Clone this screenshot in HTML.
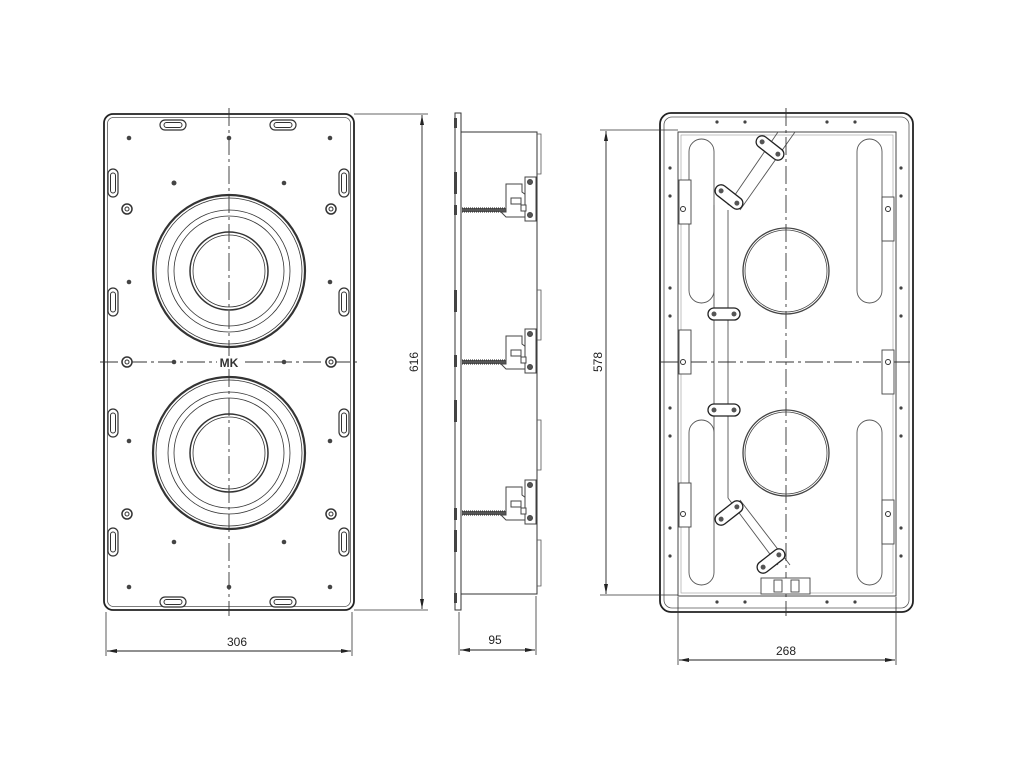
<!DOCTYPE html>
<html><head><meta charset="utf-8"><style>
html,body{margin:0;padding:0;background:#fff}
svg{display:block}
text{font-family:"Liberation Sans",sans-serif;font-size:12px;fill:#222}
</style></head><body>
<svg width="1024" height="768" viewBox="0 0 1024 768" xmlns="http://www.w3.org/2000/svg">
<defs>
<marker id="ar" viewBox="0 0 10 4" refX="10" refY="2" markerWidth="10" markerHeight="4" orient="auto-start-reverse" markerUnits="userSpaceOnUse"><path d="M0,0L10,2L0,4z" fill="#222"/></marker>
<g id="hslot"><rect x="-13" y="-5" width="26" height="10" rx="5" fill="#fff" stroke="#333" stroke-width="1.2"/><rect x="-9" y="-2.5" width="18" height="5" rx="2.5" fill="none" stroke="#333" stroke-width="1"/></g>
<g id="vslot"><rect x="-5" y="-14" width="10" height="28" rx="5" fill="#fff" stroke="#333" stroke-width="1.2"/><rect x="-2.5" y="-10" width="5" height="20" rx="2.5" fill="none" stroke="#333" stroke-width="1"/></g>
<g id="screw"><circle r="5" fill="#fff" stroke="#333" stroke-width="1.5"/><circle r="2" fill="none" stroke="#333"/></g>
<g id="woof" fill="none" stroke="#333">
<circle r="76" stroke-width="2.2"/><circle r="73" stroke-width="0.8"/>
<circle r="61" stroke-width="0.8"/><circle r="55" stroke-width="0.8"/>
<circle r="39" stroke-width="1.5"/><circle r="36" stroke-width="0.8"/>
</g>
<g id="brk" fill="#fff" stroke="#444" stroke-width="1">
<rect x="462" y="-2" width="46" height="4" fill="#555" stroke="none"/>
<path d="M462,-2 h46 M462,2 h46" stroke="#222" stroke-dasharray="1,1"/>
<path d="M506,-26 h16 v8 l4,3 v22 h-20 l-5,-5 h5z"/>
<rect x="511" y="-12" width="10" height="6"/>
<rect x="525" y="-33" width="11" height="44"/>
<circle cx="530" cy="-28" r="2.5" fill="#555"/><circle cx="530" cy="5" r="2.5" fill="#555"/>
<rect x="521" y="-5" width="5" height="6"/>
</g>
<g id="bar"><rect x="-16" y="-6" width="32" height="12" rx="6" fill="#fff" stroke="#222" stroke-width="1.3"/><circle cx="-10" r="2.5" fill="#555"/><circle cx="10" r="2.5" fill="#555"/></g>
</defs>

<!-- LEFT FRONT VIEW -->
<rect x="104" y="114" width="250" height="496" rx="9" fill="#fff" stroke="#222" stroke-width="1.8"/>
<rect x="107.5" y="117.5" width="243" height="489" rx="6" fill="none" stroke="#555" stroke-width="0.8"/>
<path d="M229,108 V616 M100,362 H358" stroke="#333" stroke-width="0.9" stroke-dasharray="18,4,3,4"/>
<use href="#woof" x="229" y="271"/><use href="#woof" x="229" y="453"/>
<use href="#hslot" x="173" y="125"/><use href="#hslot" x="283" y="125"/>
<use href="#hslot" x="173" y="602"/><use href="#hslot" x="283" y="602"/>
<use href="#vslot" x="113" y="183"/><use href="#vslot" x="113" y="302"/><use href="#vslot" x="113" y="423"/><use href="#vslot" x="113" y="542"/>
<use href="#vslot" x="344" y="183"/><use href="#vslot" x="344" y="302"/><use href="#vslot" x="344" y="423"/><use href="#vslot" x="344" y="542"/>
<g fill="#444">
<circle cx="129" cy="138" r="2.3"/><circle cx="229" cy="138" r="2.3"/><circle cx="330" cy="138" r="2.3"/>
<circle cx="174" cy="183" r="2.5"/><circle cx="284" cy="183" r="2.3"/>
<circle cx="129" cy="282" r="2.3"/><circle cx="330" cy="282" r="2.3"/>
<circle cx="174" cy="362" r="2.3"/><circle cx="284" cy="362" r="2.3"/>
<circle cx="129" cy="441" r="2.3"/><circle cx="330" cy="441" r="2.3"/>
<circle cx="174" cy="542" r="2.3"/><circle cx="284" cy="542" r="2.3"/>
<circle cx="129" cy="587" r="2.3"/><circle cx="229" cy="587" r="2.3"/><circle cx="330" cy="587" r="2.3"/>
</g>
<use href="#screw" x="127" y="209"/><use href="#screw" x="331" y="209"/>
<use href="#screw" x="127" y="362"/><use href="#screw" x="331" y="362"/>
<use href="#screw" x="127" y="514"/><use href="#screw" x="331" y="514"/>
<rect x="217" y="356" width="24" height="12" fill="#fff"/>
<text x="229" y="367" text-anchor="middle" style="font-size:12px;font-weight:bold;fill:#333">MK</text>
<!-- dims left -->
<path d="M354,114 H428 M354,610 H428 M106,612 V656 M352,612 V656" stroke="#333" stroke-width="0.8"/>
<line x1="422" y1="115" x2="422" y2="609" stroke="#222" stroke-width="0.9" marker-start="url(#ar)" marker-end="url(#ar)"/>
<text x="0" y="0" transform="translate(418,362) rotate(-90)" text-anchor="middle">616</text>
<line x1="107" y1="651" x2="351" y2="651" stroke="#222" stroke-width="0.9" marker-start="url(#ar)" marker-end="url(#ar)"/>
<text x="237" y="646" text-anchor="middle">306</text>

<!-- SIDE VIEW -->
<rect x="455" y="113" width="6" height="497" fill="#fff" stroke="#333" stroke-width="1"/>
<g fill="#444"><rect x="454" y="118" width="3" height="10"/><rect x="454" y="172" width="3" height="22"/><rect x="454" y="205" width="3" height="10"/><rect x="454" y="290" width="3" height="22"/><rect x="454" y="355" width="3" height="12"/><rect x="454" y="400" width="3" height="22"/><rect x="454" y="508" width="3" height="12"/><rect x="454" y="530" width="3" height="22"/><rect x="454" y="593" width="3" height="10"/></g>
<path d="M461,132 H537 V594 H461" fill="none" stroke="#333" stroke-width="1"/>
<path d="M537,134 h4 v40 h-4 M537,290 h4 v50 h-4 M537,420 h4 v50 h-4 M537,540 h4 v46 h-4" fill="none" stroke="#555" stroke-width="0.8"/>
<use href="#brk" y="210"/><use href="#brk" y="362"/><use href="#brk" y="513"/>
<path d="M459,612 V655 M536,596 V655" stroke="#333" stroke-width="0.8"/>
<line x1="460" y1="650" x2="535" y2="650" stroke="#222" stroke-width="0.9" marker-start="url(#ar)" marker-end="url(#ar)"/>
<text x="495" y="644" text-anchor="middle">95</text>

<!-- RIGHT REAR VIEW -->
<rect x="660" y="113" width="253" height="499" rx="11" fill="#fff" stroke="#222" stroke-width="1.8"/>
<rect x="664" y="117" width="245" height="491" rx="8" fill="none" stroke="#555" stroke-width="0.8"/>
<rect x="678" y="132" width="218" height="464" fill="none" stroke="#444" stroke-width="1"/>
<rect x="681" y="135" width="212" height="458" fill="none" stroke="#999" stroke-width="0.6"/>
<g fill="none" stroke="#555" stroke-width="0.9">
<rect x="689" y="139" width="25" height="164" rx="12.5"/><rect x="857" y="139" width="25" height="164" rx="12.5"/>
<rect x="689" y="420" width="25" height="165" rx="12.5"/><rect x="857" y="420" width="25" height="165" rx="12.5"/>
<path d="M714,205 V500 M728,210 V498"/>
<path d="M778,132 L728,205 M795,132 L740,210"/>
<path d="M728,498 L778,565 M740,500 L790,565"/>
</g>
<path d="M786,108 V616 M660,362 H913" stroke="#333" stroke-width="0.9" stroke-dasharray="18,4,3,4"/>
<g fill="none" stroke="#444"><circle cx="786" cy="271" r="43" stroke-width="1.3"/><circle cx="786" cy="271" r="41" stroke-width="0.8"/>
<circle cx="786" cy="453" r="43" stroke-width="1.3"/><circle cx="786" cy="453" r="41" stroke-width="0.8"/></g>
<use href="#bar" transform="translate(770,148) rotate(38)"/>
<use href="#bar" transform="translate(729,197) rotate(38)"/>
<use href="#bar" transform="translate(724,314)"/>
<use href="#bar" transform="translate(724,410)"/>
<use href="#bar" transform="translate(729,513) rotate(-38)"/>
<use href="#bar" transform="translate(771,561) rotate(-38)"/>
<g fill="#fff" stroke="#444" stroke-width="0.9">
<rect x="761" y="578" width="49" height="16"/><rect x="774" y="580" width="8" height="12"/><rect x="791" y="580" width="8" height="12"/>
<rect x="679" y="180" width="12" height="44"/><rect x="679" y="330" width="12" height="44"/><rect x="679" y="483" width="12" height="44"/>
<rect x="882" y="197" width="12" height="44"/><rect x="882" y="350" width="12" height="44"/><rect x="882" y="500" width="12" height="44"/>
</g>
<g fill="#fff" stroke="#333"><circle cx="683" cy="209" r="2.5"/><circle cx="683" cy="362" r="2.5"/><circle cx="683" cy="514" r="2.5"/><circle cx="888" cy="209" r="2.5"/><circle cx="888" cy="362" r="2.5"/><circle cx="888" cy="514" r="2.5"/></g>
<g fill="#444">
<circle cx="717" cy="122" r="1.6"/><circle cx="745" cy="122" r="1.6"/><circle cx="827" cy="122" r="1.6"/><circle cx="855" cy="122" r="1.6"/>
<circle cx="717" cy="602" r="1.6"/><circle cx="745" cy="602" r="1.6"/><circle cx="827" cy="602" r="1.6"/><circle cx="855" cy="602" r="1.6"/>
<circle cx="670" cy="168" r="1.6"/><circle cx="670" cy="196" r="1.6"/><circle cx="670" cy="288" r="1.6"/><circle cx="670" cy="316" r="1.6"/><circle cx="670" cy="408" r="1.6"/><circle cx="670" cy="436" r="1.6"/><circle cx="670" cy="528" r="1.6"/><circle cx="670" cy="556" r="1.6"/>
<circle cx="901" cy="168" r="1.6"/><circle cx="901" cy="196" r="1.6"/><circle cx="901" cy="288" r="1.6"/><circle cx="901" cy="316" r="1.6"/><circle cx="901" cy="408" r="1.6"/><circle cx="901" cy="436" r="1.6"/><circle cx="901" cy="528" r="1.6"/><circle cx="901" cy="556" r="1.6"/>
</g>
<!-- dims right -->
<path d="M600,130 H678 M600,595 H678 M678,597 V665 M896,597 V665" stroke="#333" stroke-width="0.8"/>
<line x1="606" y1="131" x2="606" y2="594" stroke="#222" stroke-width="0.9" marker-start="url(#ar)" marker-end="url(#ar)"/>
<text x="0" y="0" transform="translate(602,362) rotate(-90)" text-anchor="middle">578</text>
<line x1="679" y1="660" x2="895" y2="660" stroke="#222" stroke-width="0.9" marker-start="url(#ar)" marker-end="url(#ar)"/>
<text x="786" y="655" text-anchor="middle">268</text>
</svg>
</body></html>
